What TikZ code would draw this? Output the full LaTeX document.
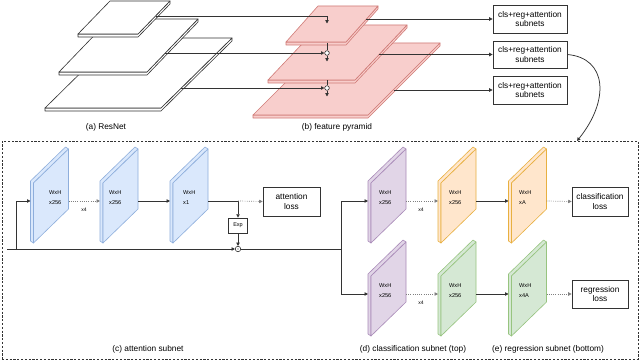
\documentclass[tikz,border=0pt]{standalone}
\usepackage{fontspec}
\setmainfont{Liberation Sans}
\usetikzlibrary{arrows.meta}
\definecolor{ln}{HTML}{333333}
\definecolor{pinkF}{HTML}{F8CECC}\definecolor{pinkD}{HTML}{D07A76}
\definecolor{blueF}{HTML}{DAE8FC}\definecolor{blueD}{HTML}{8EAEDC}
\definecolor{purF}{HTML}{E1D5E7}\definecolor{purD}{HTML}{A98BB8}
\definecolor{orgF}{HTML}{FFE6CC}\definecolor{orgD}{HTML}{E8B040}
\definecolor{grnF}{HTML}{D5E8D4}\definecolor{grnD}{HTML}{97C47F}
\newcommand{\hplate}[7]{% BLx BLy w TRx TRy fill stroke
  \filldraw[fill=#6,draw=#7,line width=0.6pt,line join=round]
    (#1,#2) -- (#1,#2+3) -- (#1+#3,#2+3) -- (#4,#5+3) -- (#4,#5) -- (#1+#3,#2) -- cycle;
  \filldraw[fill=#6,draw=#7,line width=0.6pt,line join=round]
    (#1,#2) -- (#1+#3,#2) -- (#4,#5) -- (#4-#3,#5) -- cycle;}
\newcommand{\vplate}[4]{% x top fill stroke
  \filldraw[fill=#3,draw=#4,line width=0.6pt,line join=round]
    (#1,#2+94) -- (#1-3,#2+92) -- (#1-3,#2+32) -- (#1+32,#2-2) -- (#1+35,#2) -- (#1,#2+34) -- cycle;
  \filldraw[fill=#3,draw=#4,line width=0.6pt,line join=round]
    (#1,#2+34) -- (#1+35,#2) -- (#1+35,#2+60) -- (#1,#2+94) -- cycle;}
\tikzset{
  conn/.style={draw=ln,line width=0.75pt},
  arr/.style={conn,-{Triangle[length=3.4pt,width=3.4pt]}},
  dotarr/.style={draw=black!50,line width=0.7pt,dash pattern=on 0.8pt off 1.4pt,-{Triangle[length=3.4pt,width=3.4pt]}},
  box/.style={draw=ln,line width=0.75pt,fill=white,align=center,inner sep=0pt,
    font=\fontsize{8.3}{9.6}\selectfont},
  captxt/.style={font=\fontsize{8.3}{10}\selectfont,inner sep=0pt,text=black},
  plabel/.style={font=\fontsize{5.6}{10.4}\selectfont,inner sep=0pt,align=left,anchor=west},
  xf/.style={font=\fontsize{5}{6}\selectfont,inner sep=0pt},
  opc/.style={circle,draw=ln,line width=0.6pt,fill=white,inner sep=0pt,minimum size=4.6pt}
}
\begin{document}
\begin{tikzpicture}[x=1pt,y=-1pt]
\useasboundingbox[fill=white] (0,0) rectangle (640,361);
% ResNet plates
\hplate{45}{108}{116}{232}{38}{white}{ln}
\hplate{59}{72}{88}{198}{19}{white}{ln}
\hplate{78}{34}{60}{170}{1}{white}{ln}
% Feature pyramid plates
\hplate{253}{115}{115}{440}{43}{pinkF}{pinkD}
\hplate{268}{80}{87}{407}{25}{pinkF}{pinkD}
\hplate{286}{42}{60}{378}{6}{pinkF}{pinkD}
% anchors
\coordinate (r1) at (155.5,16);
\coordinate (r2) at (165.3,53);
\coordinate (r3) at (181.3,88);
\coordinate (f1) at (327,23.5);
\node[opc] (c2) at (327,53) {};
\node[opc] (c3) at (327,88) {};
\coordinate (t2) at (327,43.5);
\coordinate (t3) at (327,80.5);
\coordinate (d2) at (327,61.5);
\coordinate (d3) at (327,96.5);
\coordinate (q1) at (366.4,19);
\coordinate (q2) at (379,54.5);
\coordinate (q3) at (393.6,90);
% subnet boxes
\node[box,minimum width=74pt,minimum height=28pt] (s1) at (530,19) {cls+reg+attention\\subnets};
\node[box,minimum width=74pt,minimum height=27pt] (s2) at (530,54.5) {cls+reg+attention\\subnets};
\node[box,minimum width=74pt,minimum height=28pt] (s3) at (530,90) {cls+reg+attention\\subnets};
% top connectors
\draw[arr] (r1) -| (f1);
\draw[arr] (r2) -- (c2.west);
\draw[arr] (r3) -- (c3.west);
\draw[conn] (t2) -- (c2.north);
\draw[conn] (t3) -- (c3.north);
\draw[arr] (c2.south) -- (d2);
\draw[arr] (c3.south) -- (d3);
\draw[arr] (q1) -- (s1.west);
\draw[arr] (q2) -- (s2.west);
\draw[arr] (q3) -- (s3.west);
% captions
\node[captxt] (ca) at (106,127.5) {(a) ResNet};
\node[captxt] (cb) at (337,127.5) {(b) feature pyramid};
% dashed frame
\node[draw=ln,line width=0.8pt,dash pattern=on 2.2pt off 1.6pt,minimum width=636pt,minimum height=218pt,inner sep=0pt] (frame) at (320,250) {};
\coordinate (fin) at (577,141);
\draw[arr] (s2.east) .. controls (607,58) and (610,100) .. (fin);
% attention subnet plates
\vplate{33.5}{149}{blueF}{blueD}
\vplate{103}{149}{blueF}{blueD}
\vplate{173}{149}{blueF}{blueD}
\node[plabel] (tb1) at (49,197.5) {WxH\\x256};
\node[plabel] (tb2) at (109,197.5) {WxH\\x256};
\node[plabel] (tb3) at (183,197.5) {WxH\\x1};
\coordinate (in) at (7,249);
\coordinate (br) at (16,249);
\coordinate (b1i) at (30.5,201);
\coordinate (b1o) at (68.5,201);
\coordinate (b2i) at (100,201);
\coordinate (b2o) at (138,201);
\coordinate (b3i) at (170,201);
\coordinate (b3o) at (208,201);
\coordinate (sp) at (238,201);
\node[draw=ln,line width=0.7pt,minimum width=19pt,minimum height=15pt,inner sep=0pt,font=\fontsize{5.5}{6}\selectfont] (exp) at (238,225.5) {Exp};
\node[circle,draw=ln,line width=0.6pt,fill=white,inner sep=0pt,minimum size=5.5pt] (m) at (238,249) {};
\fill[ln] (m.center) circle (0.7);
\node[box,minimum width=57pt,minimum height=29pt] (al) at (291.5,201.5) {attention\\loss};
\draw[arr] (in) -- (m.west);
\draw[arr] (br) |- (b1i);
\draw[dotarr] (b1o) -- (b2i);
\draw[arr] (b2o) -- (b3i);
\draw[conn] (b3o) -- (sp);
\draw[arr] (sp) -- (exp.north);
\draw[dotarr] (sp) -- (al.west);
\draw[arr] (exp.south) -- (m.north);
\node[xf] (x4a) at (84,210) {x4};
% classification / regression subnets
\vplate{371}{149}{purF}{purD}
\vplate{441}{149}{orgF}{orgD}
\vplate{511.5}{149}{orgF}{orgD}
\vplate{371}{242}{purF}{purD}
\vplate{441}{242}{grnF}{grnD}
\vplate{511.5}{242}{grnF}{grnD}
\node[plabel] (tp1) at (379,197.5) {WxH\\x256};
\node[plabel] (to1) at (449,197.5) {WxH\\x256};
\node[plabel] (to2) at (519,197.5) {WxH\\xA};
\node[plabel] (tp2) at (379,290.5) {WxH\\x256};
\node[plabel] (tg1) at (449,290.5) {WxH\\x256};
\node[plabel] (tg2) at (519,290.5) {WxH\\x4A};
\coordinate (j) at (341,249);
\coordinate (jt) at (341,201);
\coordinate (jb) at (341,294);
\coordinate (p1i) at (368,201);
\coordinate (p1o) at (406,201);
\coordinate (o1i) at (438,201);
\coordinate (o1o) at (476,201);
\coordinate (o2i) at (508.5,201);
\coordinate (o2o) at (546.5,201);
\coordinate (p2i) at (368,294);
\coordinate (p2o) at (406,294);
\coordinate (g1i) at (438,294);
\coordinate (g1o) at (476,294);
\coordinate (g2i) at (508.5,294);
\coordinate (g2o) at (546.5,294);
\node[box,minimum width=56pt,minimum height=29pt] (cl) at (600,201.5) {classification\\loss};
\node[box,minimum width=56pt,minimum height=28pt] (rl) at (600,294) {regression\\loss};
\draw[conn] (m.east) -- (j);
\draw[conn] (jt) -- (jb);
\draw[arr] (jt) -- (p1i);
\draw[arr] (jb) -- (p2i);
\draw[dotarr] (p1o) -- (o1i);
\draw[arr] (o1o) -- (o2i);
\draw[dotarr] (o2o) -- (cl.west);
\draw[dotarr] (p2o) -- (g1i);
\draw[arr] (g1o) -- (g2i);
\draw[dotarr] (g2o) -- (rl.west);
\node[xf] (x4b) at (421,210) {x4};
\node[xf] (x4c) at (421,303) {x4};
% captions
\node[captxt] (cc) at (148,349) {(c) attention subnet};
\node[captxt] (cd) at (413,349) {(d) classification subnet (top)};
\node[captxt] (ce) at (548,349) {(e) regression subnet (bottom)};
\end{tikzpicture}
\end{document}
